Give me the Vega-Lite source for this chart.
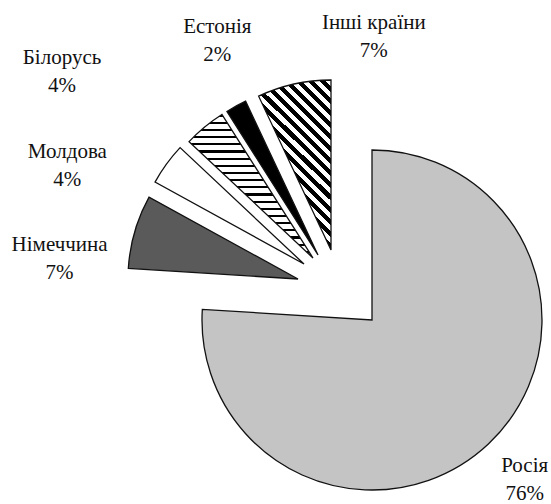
{
  "$schema": "https://vega.github.io/schema/vega-lite/v6.json",
  "autosize": {"type": "none"},
  "padding": {"left": 200, "top": 150, "right": 7, "bottom": 14},
  "width": 344,
  "height": 340,
  "background": "white",
  "config": {"view": {"stroke": null}},
  "data": {"values": [
    {"country": "Росія", "share": 76, "label": "Росія\n76%"},
    {"country": "Німеччина", "share": 7, "label": "Німеччина\n7%"},
    {"country": "Молдова", "share": 4, "label": "Молдова\n4%"},
    {"country": "Білорусь", "share": 4, "label": "Білорусь\n4%"},
    {"country": "Естонія", "share": 2, "label": "Естонія\n2%"},
    {"country": "Інші країни", "share": 7, "label": "Інші країни\n7%"}
  ]},
  "transform": [{"stack": "share", "groupby": [], "as": ["s0", "s1"]}],
  "layer": [
    {
      "transform": [{"filter": "datum.country === 'Росія'"}],
      "mark": {"type": "arc", "outerRadius": 170, "fill": "#c4c4c4", "stroke": "#111", "strokeWidth": 1.3},
      "encoding": {
        "theta": {"field": "s0", "type": "quantitative", "scale": {"domain": [0, 100]}},
        "theta2": {"field": "s1"}
      }
    },
    {
      "transform": [{"filter": "datum.country === 'Німеччина'"}],
      "mark": {"type": "arc", "outerRadius": 170, "fill": "#5a5a5a", "stroke": "#111", "strokeWidth": 1.3, "xOffset": -74, "yOffset": -41},
      "encoding": {
        "theta": {"field": "s0", "type": "quantitative", "scale": {"domain": [0, 100]}},
        "theta2": {"field": "s1"}
      }
    },
    {
      "transform": [{"filter": "datum.country === 'Молдова'"}],
      "mark": {"type": "arc", "outerRadius": 170, "fill": "#ffffff", "stroke": "#111", "strokeWidth": 1.3, "xOffset": -68, "yOffset": -56},
      "encoding": {
        "theta": {"field": "s0", "type": "quantitative", "scale": {"domain": [0, 100]}},
        "theta2": {"field": "s1"}
      }
    },
    {
      "transform": [{"filter": "datum.country === 'Білорусь'"}],
      "mark": {"type": "arc", "outerRadius": 170, "stroke": "#111", "strokeWidth": 1.3, "xOffset": -59, "yOffset": -62,
        "fill": {"gradient": "linear", "x1": 0, "y1": 0, "x2": 0, "y2": 1, "stops": [
          {"offset": 0, "color": "#000"}, {"offset": 0.015, "color": "#000"}, {"offset": 0.015, "color": "#fff"}, {"offset": 0.05, "color": "#fff"},
          {"offset": 0.05, "color": "#000"}, {"offset": 0.065, "color": "#000"}, {"offset": 0.065, "color": "#fff"}, {"offset": 0.1, "color": "#fff"},
          {"offset": 0.1, "color": "#000"}, {"offset": 0.115, "color": "#000"}, {"offset": 0.115, "color": "#fff"}, {"offset": 0.15, "color": "#fff"},
          {"offset": 0.15, "color": "#000"}, {"offset": 0.165, "color": "#000"}, {"offset": 0.165, "color": "#fff"}, {"offset": 0.2, "color": "#fff"},
          {"offset": 0.2, "color": "#000"}, {"offset": 0.215, "color": "#000"}, {"offset": 0.215, "color": "#fff"}, {"offset": 0.25, "color": "#fff"},
          {"offset": 0.25, "color": "#000"}, {"offset": 0.265, "color": "#000"}, {"offset": 0.265, "color": "#fff"}, {"offset": 0.3, "color": "#fff"},
          {"offset": 0.3, "color": "#000"}, {"offset": 0.315, "color": "#000"}, {"offset": 0.315, "color": "#fff"}, {"offset": 0.35, "color": "#fff"},
          {"offset": 0.35, "color": "#000"}, {"offset": 0.365, "color": "#000"}, {"offset": 0.365, "color": "#fff"}, {"offset": 0.4, "color": "#fff"},
          {"offset": 0.4, "color": "#000"}, {"offset": 0.415, "color": "#000"}, {"offset": 0.415, "color": "#fff"}, {"offset": 0.45, "color": "#fff"},
          {"offset": 0.45, "color": "#000"}, {"offset": 0.465, "color": "#000"}, {"offset": 0.465, "color": "#fff"}, {"offset": 0.5, "color": "#fff"},
          {"offset": 0.5, "color": "#000"}, {"offset": 0.515, "color": "#000"}, {"offset": 0.515, "color": "#fff"}, {"offset": 0.55, "color": "#fff"},
          {"offset": 0.55, "color": "#000"}, {"offset": 0.565, "color": "#000"}, {"offset": 0.565, "color": "#fff"}, {"offset": 0.6, "color": "#fff"},
          {"offset": 0.6, "color": "#000"}, {"offset": 0.615, "color": "#000"}, {"offset": 0.615, "color": "#fff"}, {"offset": 0.65, "color": "#fff"},
          {"offset": 0.65, "color": "#000"}, {"offset": 0.665, "color": "#000"}, {"offset": 0.665, "color": "#fff"}, {"offset": 0.7, "color": "#fff"},
          {"offset": 0.7, "color": "#000"}, {"offset": 0.715, "color": "#000"}, {"offset": 0.715, "color": "#fff"}, {"offset": 0.75, "color": "#fff"},
          {"offset": 0.75, "color": "#000"}, {"offset": 0.765, "color": "#000"}, {"offset": 0.765, "color": "#fff"}, {"offset": 0.8, "color": "#fff"},
          {"offset": 0.8, "color": "#000"}, {"offset": 0.815, "color": "#000"}, {"offset": 0.815, "color": "#fff"}, {"offset": 0.85, "color": "#fff"},
          {"offset": 0.85, "color": "#000"}, {"offset": 0.865, "color": "#000"}, {"offset": 0.865, "color": "#fff"}, {"offset": 0.9, "color": "#fff"},
          {"offset": 0.9, "color": "#000"}, {"offset": 0.915, "color": "#000"}, {"offset": 0.915, "color": "#fff"}, {"offset": 0.95, "color": "#fff"},
          {"offset": 0.95, "color": "#000"}, {"offset": 0.965, "color": "#000"}, {"offset": 0.965, "color": "#fff"}, {"offset": 1, "color": "#fff"}
        ]}},
      "encoding": {
        "theta": {"field": "s0", "type": "quantitative", "scale": {"domain": [0, 100]}},
        "theta2": {"field": "s1"}
      }
    },
    {
      "transform": [{"filter": "datum.country === 'Естонія'"}],
      "mark": {"type": "arc", "outerRadius": 170, "fill": "#000000", "stroke": "#111", "strokeWidth": 1.3, "xOffset": -54, "yOffset": -65},
      "encoding": {
        "theta": {"field": "s0", "type": "quantitative", "scale": {"domain": [0, 100]}},
        "theta2": {"field": "s1"}
      }
    },
    {
      "transform": [{"filter": "datum.country === 'Інші країни'"}],
      "mark": {"type": "arc", "outerRadius": 170, "stroke": "#111", "strokeWidth": 1.3, "xOffset": -41, "yOffset": -70,
        "fill": {"gradient": "linear", "x1": 0, "y1": 1, "x2": 0.511, "y2": -0.207, "stops": [
          {"offset": 0, "color": "#000"}, {"offset": 0.025, "color": "#000"}, {"offset": 0.025, "color": "#fff"}, {"offset": 0.05, "color": "#fff"},
          {"offset": 0.05, "color": "#000"}, {"offset": 0.075, "color": "#000"}, {"offset": 0.075, "color": "#fff"}, {"offset": 0.1, "color": "#fff"},
          {"offset": 0.1, "color": "#000"}, {"offset": 0.125, "color": "#000"}, {"offset": 0.125, "color": "#fff"}, {"offset": 0.15, "color": "#fff"},
          {"offset": 0.15, "color": "#000"}, {"offset": 0.175, "color": "#000"}, {"offset": 0.175, "color": "#fff"}, {"offset": 0.2, "color": "#fff"},
          {"offset": 0.2, "color": "#000"}, {"offset": 0.225, "color": "#000"}, {"offset": 0.225, "color": "#fff"}, {"offset": 0.25, "color": "#fff"},
          {"offset": 0.25, "color": "#000"}, {"offset": 0.275, "color": "#000"}, {"offset": 0.275, "color": "#fff"}, {"offset": 0.3, "color": "#fff"},
          {"offset": 0.3, "color": "#000"}, {"offset": 0.325, "color": "#000"}, {"offset": 0.325, "color": "#fff"}, {"offset": 0.35, "color": "#fff"},
          {"offset": 0.35, "color": "#000"}, {"offset": 0.375, "color": "#000"}, {"offset": 0.375, "color": "#fff"}, {"offset": 0.4, "color": "#fff"},
          {"offset": 0.4, "color": "#000"}, {"offset": 0.425, "color": "#000"}, {"offset": 0.425, "color": "#fff"}, {"offset": 0.45, "color": "#fff"},
          {"offset": 0.45, "color": "#000"}, {"offset": 0.475, "color": "#000"}, {"offset": 0.475, "color": "#fff"}, {"offset": 0.5, "color": "#fff"},
          {"offset": 0.5, "color": "#000"}, {"offset": 0.525, "color": "#000"}, {"offset": 0.525, "color": "#fff"}, {"offset": 0.55, "color": "#fff"},
          {"offset": 0.55, "color": "#000"}, {"offset": 0.575, "color": "#000"}, {"offset": 0.575, "color": "#fff"}, {"offset": 0.6, "color": "#fff"},
          {"offset": 0.6, "color": "#000"}, {"offset": 0.625, "color": "#000"}, {"offset": 0.625, "color": "#fff"}, {"offset": 0.65, "color": "#fff"},
          {"offset": 0.65, "color": "#000"}, {"offset": 0.675, "color": "#000"}, {"offset": 0.675, "color": "#fff"}, {"offset": 0.7, "color": "#fff"},
          {"offset": 0.7, "color": "#000"}, {"offset": 0.725, "color": "#000"}, {"offset": 0.725, "color": "#fff"}, {"offset": 0.75, "color": "#fff"},
          {"offset": 0.75, "color": "#000"}, {"offset": 0.775, "color": "#000"}, {"offset": 0.775, "color": "#fff"}, {"offset": 0.8, "color": "#fff"},
          {"offset": 0.8, "color": "#000"}, {"offset": 0.825, "color": "#000"}, {"offset": 0.825, "color": "#fff"}, {"offset": 0.85, "color": "#fff"},
          {"offset": 0.85, "color": "#000"}, {"offset": 0.875, "color": "#000"}, {"offset": 0.875, "color": "#fff"}, {"offset": 0.9, "color": "#fff"},
          {"offset": 0.9, "color": "#000"}, {"offset": 0.925, "color": "#000"}, {"offset": 0.925, "color": "#fff"}, {"offset": 0.95, "color": "#fff"},
          {"offset": 0.95, "color": "#000"}, {"offset": 0.975, "color": "#000"}, {"offset": 0.975, "color": "#fff"}, {"offset": 1, "color": "#fff"}
        ]}},
      "encoding": {
        "theta": {"field": "s0", "type": "quantitative", "scale": {"domain": [0, 100]}},
        "theta2": {"field": "s1"}
      }
    },
    {
      "mark": {"type": "text", "radius": 223, "yOffset": -17, "font": "Liberation Serif", "fontSize": 21, "lineBreak": "\n", "lineHeight": 28, "align": "center", "baseline": "middle", "color": "#111"},
      "encoding": {
        "theta": {"field": "share", "type": "quantitative", "stack": true, "scale": {"domain": [0, 100]}},
        "order": {"field": "s0", "type": "quantitative"},
        "text": {"condition": {"test": "datum.country === 'Росія'", "field": "label"}, "value": ""}
      }
    },
    {
      "mark": {"type": "text", "radius": 317, "xOffset": -8, "yOffset": 13, "font": "Liberation Serif", "fontSize": 21, "lineBreak": "\n", "lineHeight": 28, "align": "center", "baseline": "middle", "color": "#111"},
      "encoding": {
        "theta": {"field": "share", "type": "quantitative", "stack": true, "scale": {"domain": [0, 100]}},
        "order": {"field": "s0", "type": "quantitative"},
        "text": {"condition": {"test": "datum.country === 'Німеччина'", "field": "label"}, "value": ""}
      }
    },
    {
      "mark": {"type": "text", "radius": 337, "xOffset": -32, "yOffset": 30, "font": "Liberation Serif", "fontSize": 21, "lineBreak": "\n", "lineHeight": 28, "align": "center", "baseline": "middle", "color": "#111"},
      "encoding": {
        "theta": {"field": "share", "type": "quantitative", "stack": true, "scale": {"domain": [0, 100]}},
        "order": {"field": "s0", "type": "quantitative"},
        "text": {"condition": {"test": "datum.country === 'Молдова'", "field": "label"}, "value": ""}
      }
    },
    {
      "mark": {"type": "text", "radius": 389, "xOffset": -62, "yOffset": 38, "font": "Liberation Serif", "fontSize": 21, "lineBreak": "\n", "lineHeight": 28, "align": "center", "baseline": "middle", "color": "#111"},
      "encoding": {
        "theta": {"field": "share", "type": "quantitative", "stack": true, "scale": {"domain": [0, 100]}},
        "order": {"field": "s0", "type": "quantitative"},
        "text": {"condition": {"test": "datum.country === 'Білорусь'", "field": "label"}, "value": ""}
      }
    },
    {
      "mark": {"type": "text", "radius": 319, "xOffset": -1, "yOffset": -13, "font": "Liberation Serif", "fontSize": 21, "lineBreak": "\n", "lineHeight": 28, "align": "center", "baseline": "middle", "color": "#111"},
      "encoding": {
        "theta": {"field": "share", "type": "quantitative", "stack": true, "scale": {"domain": [0, 100]}},
        "order": {"field": "s0", "type": "quantitative"},
        "text": {"condition": {"test": "datum.country === 'Естонія'", "field": "label"}, "value": ""}
      }
    },
    {
      "mark": {"type": "text", "radius": 276, "xOffset": 62, "yOffset": -28, "font": "Liberation Serif", "fontSize": 21, "lineBreak": "\n", "lineHeight": 28, "align": "center", "baseline": "middle", "color": "#111"},
      "encoding": {
        "theta": {"field": "share", "type": "quantitative", "stack": true, "scale": {"domain": [0, 100]}},
        "order": {"field": "s0", "type": "quantitative"},
        "text": {"condition": {"test": "datum.country === 'Інші країни'", "field": "label"}, "value": ""}
      }
    }
  ]
}
